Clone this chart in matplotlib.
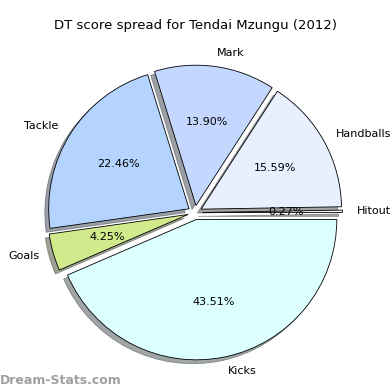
import matplotlib
matplotlib.use("Agg")
import matplotlib.pyplot as plt

labels = ["Hitout", "Handballs", "Mark", "Tackle", "Goals", "Kicks"]
values = [0.27, 15.59, 13.90, 22.46, 4.25, 43.51]
colors = ["#f4f8ff", "#e8f0ff", "#c4d8ff", "#b4d4ff", "#d0ea8c", "#dcffff"]
explode = [0.05] * 6

plt.rcParams["font.size"] = 8
total = sum(values)

fig = plt.figure(figsize=(3.9, 3.9), dpi=100)
ax = fig.add_axes([0.05, 0.005, 0.9, 0.9])
ax.pie(values, labels=labels, colors=colors, explode=explode,
       autopct=lambda p: "%.2f%%" % (p * total / 100),
       shadow=True, startangle=0, wedgeprops={"edgecolor": "black", "linewidth": 0.6})
ax.set_aspect("equal")
fig.text(0.5, 0.925, "DT score spread for Tendai Mzungu (2012)", fontsize=9.5, ha="center")
fig.text(0.0, 0.015, "Dream-Stats.com", color="#a0a0a0", fontsize=9, fontweight="bold")
fig.savefig("out.png")
